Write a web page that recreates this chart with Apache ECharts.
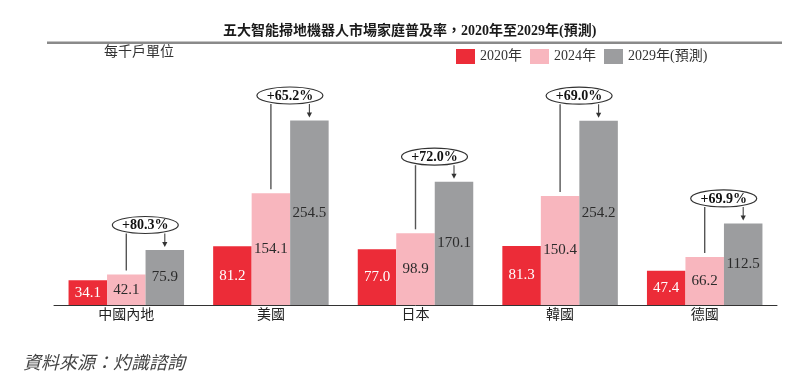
<!DOCTYPE html>
<html>
<head>
<meta charset="utf-8">
<script src="https://cdn.jsdelivr.net/npm/echarts@6/dist/echarts.min.js"></script>
<style>html,body{margin:0;padding:0;background:#fff;}#c{width:800px;height:391px;}</style>
</head>
<body>
<div id="c"></div>
<script>
const categories = ['中國內地', '美國', '日本', '韓國', '德國'];
const seriesNames = ['2020年', '2024年', '2029年(預測)'];
const v2020 = [34.1, 81.2, 77.0, 81.3, 47.4];
const v2024 = [42.1, 154.1, 98.9, 150.4, 66.2];
const v2029 = [75.9, 254.5, 170.1, 254.2, 112.5];
const growth = ['+80.3%', '+65.2%', '+72.0%', '+69.0%', '+69.9%'];

const FONT = "'Liberation Serif', 'Noto Sans CJK TC', serif";
const COLORS = ['#EC2C38', '#F8B6BE', '#9C9D9F'];
const BAR_W = 38.5;

const chart = echarts.init(document.getElementById('c'));

function barSeries(name, data, color, labelColor) {
  return {
    name: name,
    type: 'bar',
    data: data,
    barWidth: BAR_W,
    barGap: '0%',
    itemStyle: { color: color },
    label: {
      show: true,
      position: 'inside',
      color: labelColor,
      fontFamily: FONT,
      fontSize: 15,
      formatter: p => Number(p.value).toFixed(1)
    },
    silent: true
  };
}

const annoData = categories.map((c, i) => [i, v2024[i], v2029[i]]);

function renderAnno(params, api) {
  const idx = api.value(0);
  const pinkTop = api.coord([idx, api.value(1)]);
  const grayTop = api.coord([idx, api.value(2)]);
  const cx = pinkTop[0];
  const gx = cx + BAR_W;
  const ecy = grayTop[1] - 25;
  const rx = 33, ry = 8.5;
  const ebot = ecy + ry;
  const tip = grayTop[1] - 3;
  const lineStyle = { stroke: '#555', lineWidth: 1.4 };
  return {
    type: 'group',
    children: [
      { type: 'line', shape: { x1: cx, y1: pinkTop[1] - 4, x2: cx, y2: ebot }, style: lineStyle },
      { type: 'line', shape: { x1: gx, y1: ebot, x2: gx, y2: tip - 4 }, style: { stroke: '#444', lineWidth: 1.1 } },
      { type: 'polygon', shape: { points: [[gx - 2.6, tip - 5], [gx + 2.6, tip - 5], [gx, tip]] }, style: { fill: '#333' } },
      { type: 'ellipse', shape: { cx: cx + 19, cy: ecy, rx: rx, ry: ry }, style: { fill: '#fff', stroke: '#333', lineWidth: 1.2 } },
      { type: 'text', x: cx + 19, y: ecy + 0.5, style: { text: growth[params.dataIndex], fontFamily: FONT, fontWeight: 'bold', fontSize: 14, fill: '#111', align: 'center', verticalAlign: 'middle' } }
    ]
  };
}

const option = {
  animation: false,
  backgroundColor: '#fff',
  title: {
    text: '五大智能掃地機器人市場家庭普及率，2020年至2029年(預測)',
    left: 223,
    top: 24,
    padding: 0,
    textStyle: { fontFamily: FONT, fontSize: 14, fontWeight: 'bold', color: '#1a1a1a' }
  },
  legend: {
    data: seriesNames,
    left: 456,
    top: 49,
    padding: 0,
    itemWidth: 19,
    itemHeight: 15,
    itemGap: 8,
    icon: 'rect',
    selectedMode: false,
    textStyle: { fontFamily: FONT, fontSize: 14, color: '#333' }
  },
  grid: { left: 54, right: 23, top: 69.4, bottom: 86 },
  xAxis: {
    type: 'category',
    data: categories,
    axisLine: { show: true, lineStyle: { color: '#333', width: 1 } },
    axisTick: { show: false },
    axisLabel: { fontFamily: FONT, fontSize: 14, color: '#222', margin: 3 }
  },
  yAxis: {
    type: 'value',
    min: 0,
    max: 325,
    show: false,
    splitLine: { show: false }
  },
  series: [
    barSeries(seriesNames[0], v2020, COLORS[0], '#fff'),
    barSeries(seriesNames[1], v2024, COLORS[1], '#2b2b2b'),
    barSeries(seriesNames[2], v2029, COLORS[2], '#2b2b2b'),
    {
      type: 'custom',
      renderItem: renderAnno,
      data: annoData,
      encode: { x: 0, y: [1, 2] },
      z: 10,
      silent: true
    }
  ],
  graphic: [
    { type: 'rect', shape: { x: 47, y: 41.5, width: 735, height: 2.5 }, style: { fill: '#8a8a8a' }, silent: true },
    { type: 'text', left: 104, top: 45, style: { text: '每千戶單位', fontFamily: FONT, fontSize: 14, fill: '#333' }, silent: true },
    { type: 'text', left: 23, top: 355, style: { text: '資料來源：灼識諮詢', fontFamily: FONT, fontSize: 18, fontStyle: 'italic', fill: '#444' }, silent: true }
  ]
};

chart.setOption(option);
</script>
</body>
</html>
